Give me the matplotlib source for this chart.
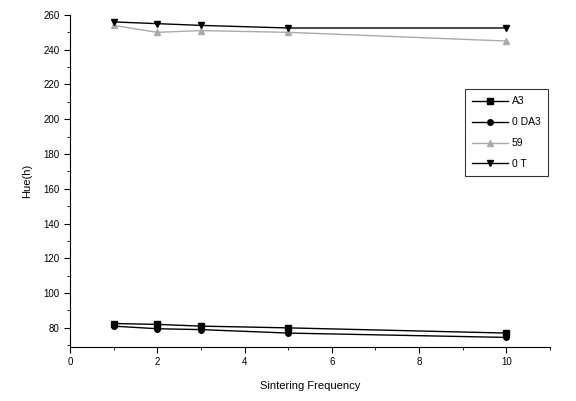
import numpy as np
import matplotlib
matplotlib.use("Agg")
import matplotlib.pyplot as plt
from matplotlib.ticker import MultipleLocator

plt.rcParams['font.family'] = ['Liberation Sans', 'DejaVu Sans']

# sintering frequency
freq = [1, 2, 3, 5, 10]

# hue values
hue_a3 = [82.5, 82, 81, 80, 77]
hue_0da3 = [81, 79.5, 79, 77, 74.5]
hue_59 = [254, 250, 251, 250, 245]
hue_0t = [256, 255, 254, 252.5, 252.5]

fig = plt.figure(figsize=(5.76, 4.01), dpi=100)
ax = fig.add_axes([0.1215, 0.1347, 0.8335, 0.828])

ax.plot(freq, hue_a3, color='black', marker='s', ms=4, lw=1, label='A3')
ax.plot(freq, hue_0da3, color='black', marker='o', ms=4, lw=1, label='0 DA3')
ax.plot(freq, hue_59, color='#aaaaaa', marker='^', ms=4.5, lw=1, label='59')
ax.plot(freq, hue_0t, color='black', marker='v', ms=5, lw=1, label='0 T')

ax.set_xlim(0, 11)
ax.set_ylim(69, 260)
ax.xaxis.set_major_locator(MultipleLocator(2))
ax.xaxis.set_minor_locator(MultipleLocator(1))
ax.yaxis.set_major_locator(MultipleLocator(20))
ax.yaxis.set_minor_locator(MultipleLocator(10))
ax.set_yticks(np.arange(80, 261, 20))

ax.spines['top'].set_visible(False)
ax.spines['right'].set_visible(False)
ax.tick_params(which='major', direction='out', length=4, labelsize=7)
ax.tick_params(which='minor', direction='out', length=2)

ax.set_xlabel('Sintering Frequency', fontsize=8, labelpad=10)
ax.set_ylabel('Hue(h)', fontsize=8, labelpad=8)

leg = ax.legend(loc='upper left', bbox_to_anchor=(0.823, 0.777), fontsize=7.5,
                frameon=True, fancybox=False, edgecolor='black',
                handlelength=3.4, handletextpad=0.4, borderpad=0.7,
                labelspacing=1.05, borderaxespad=0)
leg.get_frame().set_linewidth(0.8)

plt.savefig('out.png', dpi=100)
